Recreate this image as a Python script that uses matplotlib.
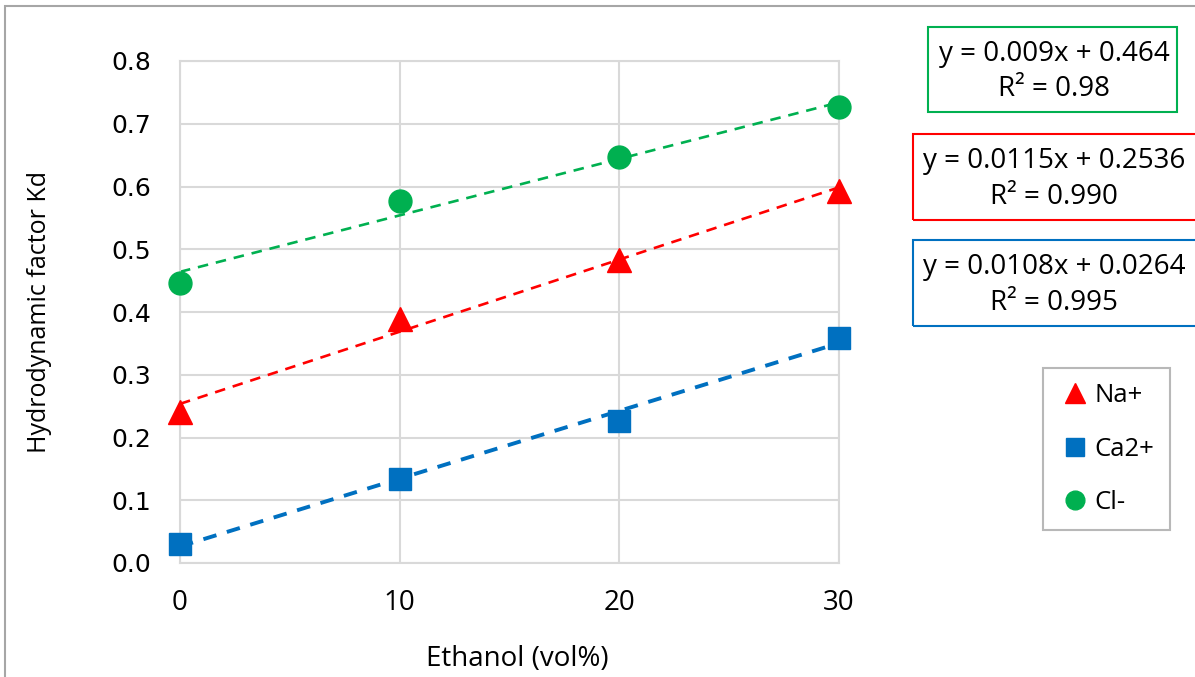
import matplotlib.pyplot as plt
import matplotlib.patches as mpatches
import numpy as np

# data
ethanol = [0, 10, 20, 30]
na_kd = [0.241, 0.389, 0.483, 0.593]
ca_kd = [0.030, 0.134, 0.227, 0.358]
cl_kd = [0.447, 0.577, 0.647, 0.726]

# trendline coefficients shown in the boxes (slope, intercept)
na_fit = [0.0115, 0.2536]
ca_fit = [0.0108, 0.0264]
cl_fit = [0.009, 0.464]

x_ticks = [0, 10, 20, 30]
y_ticks = [0.0, 0.1, 0.2, 0.3, 0.4, 0.5, 0.6, 0.7, 0.8]

GREEN = '#00b050'
RED = '#ff0000'
BLUE = '#0070c0'
GRID = '#d9d9d9'
FONT = 'Open Sans'

W, H = 1195, 677
fig = plt.figure(figsize=(W / 100, H / 100), dpi=100)
ax = fig.add_axes([180 / W, 1 - 563 / H, (839 - 180) / W, (563 - 61) / H])

xs = np.array([0, 30])
ax.plot(xs, cl_fit[0] * xs + cl_fit[1], color=GREEN, lw=1.9, dashes=(4, 3), zorder=2)
ax.plot(xs, na_fit[0] * xs + na_fit[1], color=RED, lw=1.9, dashes=(4, 3), zorder=2)
ax.plot(xs, ca_fit[0] * xs + ca_fit[1], color=BLUE, lw=2.8, dashes=(3.5, 2.8), zorder=2)

ax.plot(ethanol, na_kd, '^', color=RED, ms=17, mec=RED, ls='none', clip_on=False, zorder=3)
ax.plot(ethanol, ca_kd, 's', color=BLUE, ms=15.5, mec=BLUE, ls='none', clip_on=False, zorder=3)
ax.plot(ethanol, cl_kd, 'o', color=GREEN, ms=16.5, mec=GREEN, ls='none', clip_on=False, zorder=3)

ax.set_xlim(0, 30)
ax.set_ylim(0, 0.8)
ax.set_xticks(x_ticks)
ax.set_yticks(y_ticks)
ax.set_yticklabels(['%.1f' % v for v in y_ticks], fontsize=18, family='DejaVu Sans')
ax.set_xticklabels([str(v) for v in x_ticks], fontsize=20, family=FONT)
ax.tick_params(length=0, pad=19, axis='x')
ax.tick_params(length=0, pad=21, axis='y')
ax.grid(True, color=GRID, lw=1.5)
ax.set_axisbelow(True)
for s in ax.spines.values():
    s.set_color(GRID)
    s.set_linewidth(1.5)

fig.text(517 / W, 1 - 659 / H, 'Ethanol (vol%)', ha='center', va='center', fontsize=20, family=FONT)
fig.text(40 / W, 1 - 312 / H, 'Hydrodynamic factor Kd', ha='center', va='center', rotation=90,
         fontsize=18, family=FONT)

# outer chart border
fig.add_artist(mpatches.Rectangle((5 / W, -0.1), 2, 1 - 6 / H + 0.1, transform=fig.transFigure,
                                  fill=False, ec='#a6a6a6', lw=1.5))

# equation boxes
boxes = [
    (928, 27, 1177, 112, GREEN, 'y = 0.009x + 0.464', 'R² = 0.98'),
    (913, 134, 1230, 220, RED, 'y = 0.0115x + 0.2536', 'R² = 0.990'),
    (913, 240, 1230, 326, BLUE, 'y = 0.0108x + 0.0264', 'R² = 0.995'),
]
for x0, y0, x1, y1, col, eq, r2 in boxes:
    fig.add_artist(mpatches.Rectangle((x0 / W, 1 - y1 / H), (x1 - x0) / W, (y1 - y0) / H,
                                      transform=fig.transFigure, fill=False, ec=col, lw=1.5))
    yc = (y0 + y1) / 2
    fig.text(1054 / W, 1 - (yc - 16) / H, eq, ha='center', va='center', fontsize=20, family=FONT)
    fig.text(1054 / W, 1 - (yc + 20) / H, r2, ha='center', va='center', fontsize=20, family=FONT)

# legend
leg = ax.legend(
    handles=[plt.Line2D([], [], marker='^', color=RED, ls='none', ms=14),
             plt.Line2D([], [], marker='s', color=BLUE, ls='none', ms=13),
             plt.Line2D([], [], marker='o', color=GREEN, ls='none', ms=13.5)],
    labels=['Na+', 'Ca2+', 'Cl-'],
    loc='upper left', bbox_to_anchor=(1043 / W, 1 - 368 / H), bbox_transform=fig.transFigure,
    prop={'family': FONT, 'size': 18.5}, frameon=True, fancybox=False,
    edgecolor='#a6a6a6', labelspacing=1.1, handletextpad=0.1, handlelength=1.3,
    borderpad=0.6, borderaxespad=0)
leg.get_frame().set_linewidth(1.5)

fig.savefig('out.png', dpi=100)
